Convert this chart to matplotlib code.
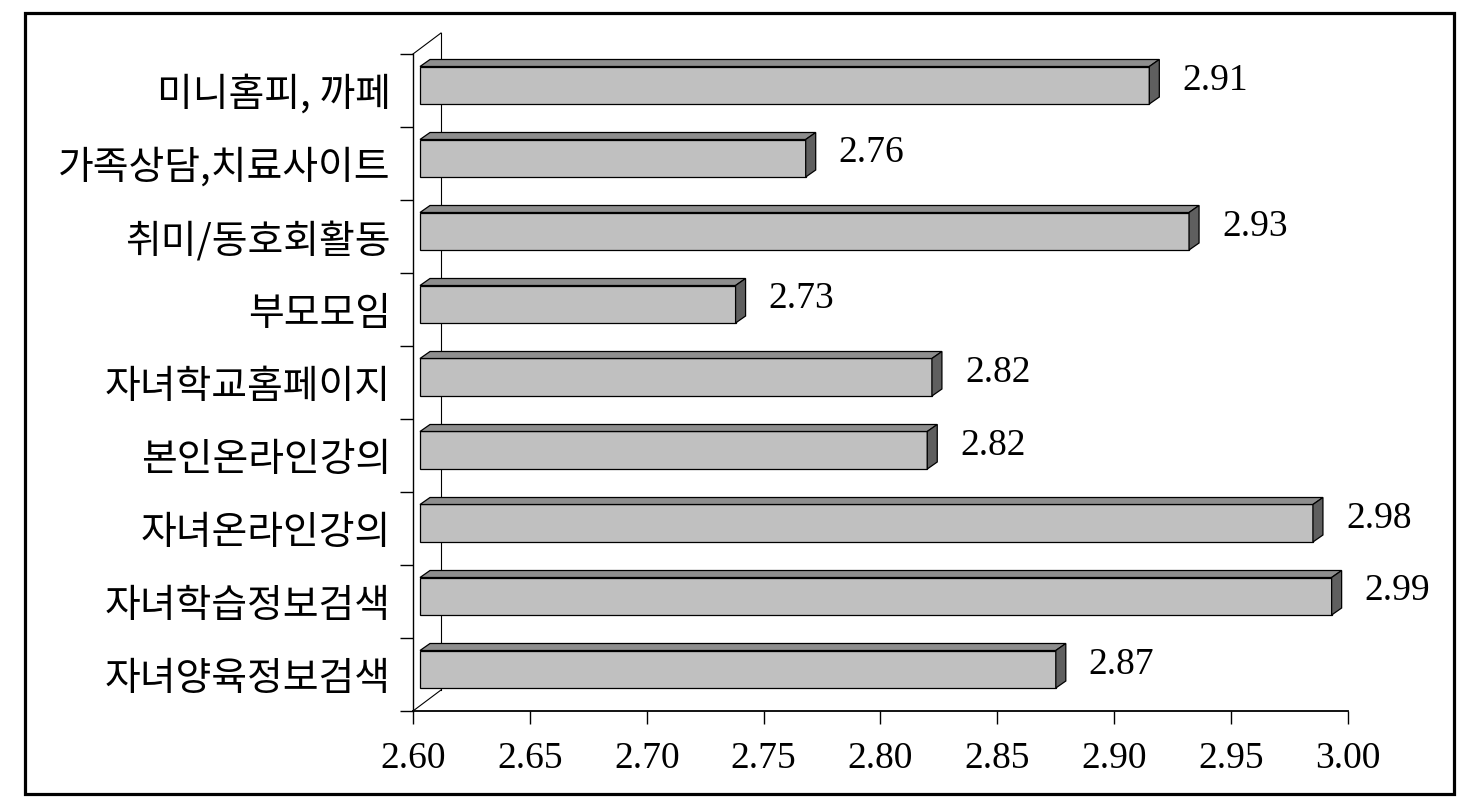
import matplotlib
matplotlib.use("Agg")
import matplotlib.pyplot as plt
from matplotlib.patches import Polygon, Rectangle

categories = ["미니홈피, 까페", "가족상담,치료사이트", "취미/동호회활동", "부모모임",
              "자녀학교홈페이지", "본인온라인강의", "자녀온라인강의", "자녀학습정보검색",
              "자녀양육정보검색"]
values = [2.911, 2.764, 2.928, 2.734, 2.818, 2.816, 2.981, 2.989, 2.871]
xticks = [2.60, 2.65, 2.70, 2.75, 2.80, 2.85, 2.90, 2.95, 3.00]

W, H = 1478, 811
fig = plt.figure(figsize=(W / 100, H / 100), dpi=100)
fig.patch.set_facecolor("white")

# outer border
fig.add_artist(Rectangle((25 / W, 1 - 794 / H), 1429 / W, 781 / H, transform=fig.transFigure,
                         fill=False, edgecolor="black", linewidth=2.3))

left, right, bottom, top = 413 / W, 1348 / W, 1 - 711 / H, 1 - 54 / H
ax = fig.add_axes([left, bottom, right - left, top - bottom])
x0, x1 = 2.60, 3.00
n = len(categories)
ax.set_xlim(x0, x1)
ax.set_ylim(n, 0)
ax.set_facecolor("none")

pxx = (x1 - x0) / (1348 - 413)   # data units per pixel (x)
pxy = n / (711 - 54)             # data units per pixel (y)

# back wall lines (3D depth)
wdx, wdy = 28 * pxx, -21 * pxy
ax.plot([x0, x0 + wdx], [0, wdy], color="black", lw=0.8, clip_on=False, zorder=1)
ax.plot([x0, x0 + wdx], [n, n + wdy], color="black", lw=0.8, clip_on=False, zorder=1)
ax.plot([x0 + wdx, x0 + wdx], [wdy, n + wdy], color="black", lw=0.8, clip_on=False, zorder=1)

# bars
bdx, bdy = 10 * pxx, -7 * pxy
front_off = 7 * pxx
for i, v in enumerate(values):
    xl = x0 + front_off
    xr = v + 0.004
    yt = i + 12.5 * pxy
    yb = i + 50 * pxy
    front = Polygon([(xl, yt), (xr, yt), (xr, yb), (xl, yb)], closed=True,
                    facecolor="#c0c0c0", edgecolor="black", lw=0.9, zorder=3)
    topf = Polygon([(xl, yt), (xl + bdx, yt + bdy), (xr + bdx, yt + bdy), (xr, yt)], closed=True,
                   facecolor="#8e8e8e", edgecolor="black", lw=0.9, zorder=3)
    side = Polygon([(xr, yt), (xr + bdx, yt + bdy), (xr + bdx, yb + bdy), (xr, yb)], closed=True,
                   facecolor="#5f5f5f", edgecolor="black", lw=0.9, zorder=3)
    for p in (front, topf, side):
        ax.add_patch(p)
    ax.text(xr + bdx + 23 * pxx, (yt + yb) / 2 - 5 * pxy, f"{v:.2f}",
            ha="left", va="center", fontsize=27, family="Liberation Serif", zorder=4)

# axes styling
for s in ("top", "right"):
    ax.spines[s].set_visible(False)
ax.spines["left"].set_linewidth(1.0)
ax.spines["bottom"].set_linewidth(1.3)

ax.set_xticks(xticks)
ax.set_xticklabels([f"{t:.2f}" for t in xticks], family="Liberation Serif", fontsize=27)
ax.tick_params(axis="x", direction="out", length=9.4, width=1.0, pad=12.5)

ax.set_yticks(range(n + 1))
ax.set_yticklabels([])
ax.tick_params(axis="y", which="major", direction="out", length=9.4, width=1.0)
ax.set_yticks([i + 0.5 for i in range(n)], minor=True)
ax.set_yticklabels(categories, minor=True, family=["Noto Sans CJK KR", "DejaVu Sans"], fontsize=28)
ax.tick_params(axis="y", which="minor", length=0, pad=16)

fig.savefig("out.png", dpi=100)
